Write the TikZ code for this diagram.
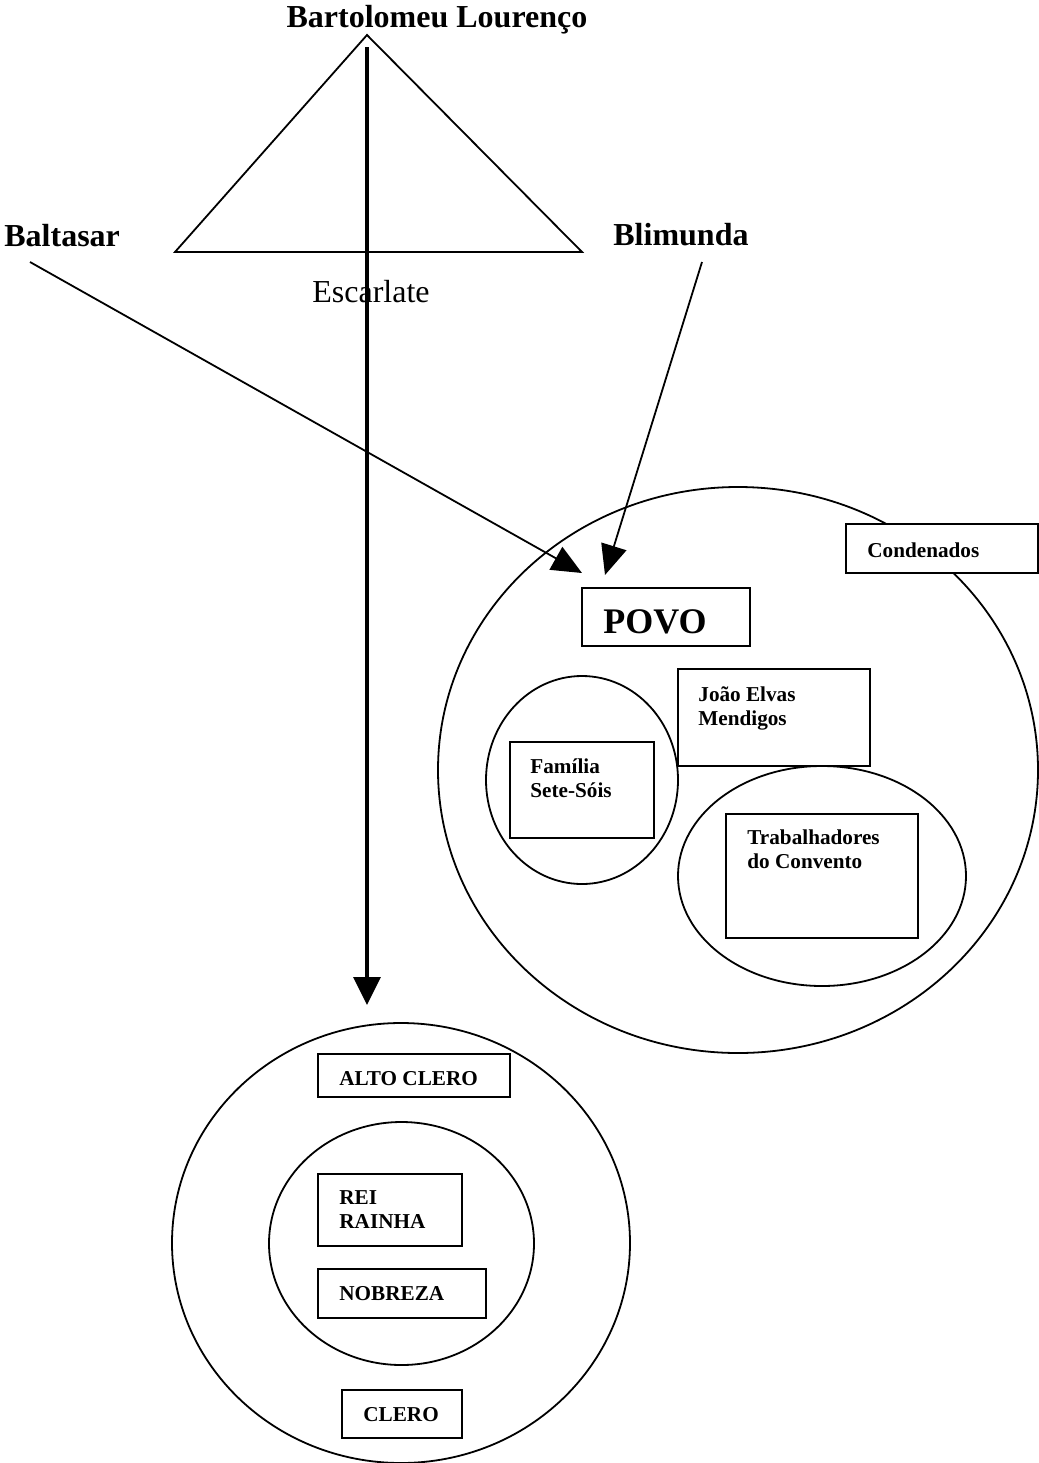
\documentclass[tikz,border=0pt]{standalone}
\usepackage{fontspec}
\setmainfont{Liberation Serif}
\usetikzlibrary{arrows.meta}
\begin{document}
\begin{tikzpicture}[x=0.5pt,y=-0.5pt,
  line/.style={line width=0.9pt},
  ring/.style={line, draw=black},
  tag/.style={line, draw=black, fill=white, inner sep=0pt, outer sep=0pt},
  bigname/.style={font=\fontsize{16}{19}\selectfont\bfseries, inner sep=0pt, anchor=base west},
  small/.style={font=\fontsize{10.6}{12}\selectfont\bfseries, inner sep=0pt, anchor=base west, align=left},
  pointer/.style={line, -{Triangle[length=15pt,width=13pt]}},
  mainpointer/.style={line width=1.6pt, -{Triangle[length=14pt,width=13.5pt]}}
]
\useasboundingbox (0,0) rectangle (1039,1463);

% names at the top
\node[bigname, anchor=base] (bart) at (437,27) {Bartolomeu Lourenço};
\node[bigname] (balt) at (4,246) {Baltasar};
\node[bigname] (blim) at (613,245) {Blimunda};

% triangle
\coordinate (apex) at (367,35);
\coordinate (bl) at (175,252);
\coordinate (br) at (582,252);
\draw[line, line join=miter] (bl) -- (apex) -- (br) -- cycle;
\node[font=\fontsize{16}{19}\selectfont, inner sep=0pt, anchor=base west] (esc) at (312,302) {Escarlate};

% the people
\draw[ring] (738,770) ellipse [x radius=300, y radius=283];
\draw[ring] (582,780) ellipse [x radius=96, y radius=104];
\draw[ring] (822,876) ellipse [x radius=144, y radius=110];

\node[tag, minimum width=84pt, minimum height=29pt] (povobox) at (666,617) {};
\node[font=\fontsize{18}{21}\selectfont\bfseries, inner sep=0pt, anchor=base west] (povo) at (603,633) {POVO};

\node[tag, minimum width=96pt, minimum height=24.5pt] (condbox) at (942,548.5) {};
\node[small] (cond) at (867,557) {Condenados};

% multi-line labels are placed by the baseline of their last line
\node[tag, minimum width=96pt, minimum height=48.5pt] (joaobox) at (774,717.5) {};
\node[small] (joao) at (698,725) {João Elvas\\Mendigos};

\node[tag, minimum width=72pt, minimum height=48pt] (sete) at (582,790) {};
\node[small] (setetxt) at (530,797) {Família\\Sete-Sóis};

\node[tag, minimum width=96pt, minimum height=62pt] (trabbox) at (822,876) {};
\node[small] (trab) at (747,868) {Trabalhadores\\do Convento};

% court and clergy
\draw[ring] (401,1243) ellipse [x radius=229, y radius=220];
\draw[ring] (401.5,1243.5) ellipse [x radius=132.5, y radius=121.5];

\node[tag, minimum width=96pt, minimum height=21.5pt] (altobox) at (414,1075.5) {};
\node[small] (alto) at (339,1085) {ALTO CLERO};

\node[tag, minimum width=72pt, minimum height=36pt] (reibox) at (390,1210) {};
\node[small] (rei) at (339,1228) {REI\\RAINHA};

\node[tag, minimum width=84pt, minimum height=24.5pt] (nobbox) at (402,1293.5) {};
\node[small] (nob) at (339,1300) {NOBREZA};

\node[tag, minimum width=60pt, minimum height=24pt] (clerobox) at (402,1414) {};
\node[small] (clero) at (363,1421) {CLERO};

% connectors
\coordinate (baltstart) at (30,262);
\coordinate (baltend) at (582,573);
\coordinate (blimstart) at (702,262);
\coordinate (blimend) at (605,575);
\coordinate (bartstart) at (367,47);
\coordinate (bartend) at (367,1005);
\draw[pointer] (baltstart) -- (baltend);
\draw[pointer] (blimstart) -- (blimend);
\draw[mainpointer] (bartstart) -- (bartend);
\end{tikzpicture}
\end{document}
